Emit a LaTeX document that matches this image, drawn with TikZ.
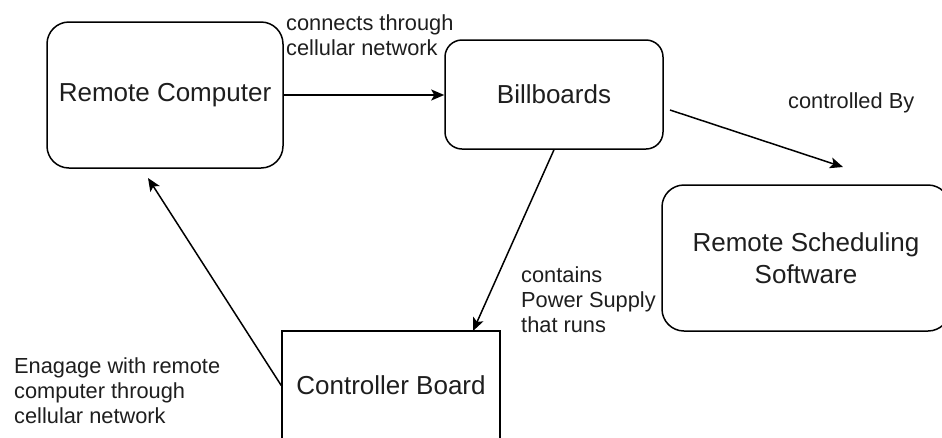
\documentclass[tikz,border=0pt]{standalone}
\usepackage{fontspec}
\setmainfont{Liberation Sans}
\usetikzlibrary{arrows.meta,calc}
\definecolor{txt}{RGB}{30,30,30}
\begin{document}
\begin{tikzpicture}[x=1pt,y=-1pt,
  box/.style={draw, line width=1.5pt, inner sep=0pt, text=txt, align=center,
    font=\fontsize{26}{32}\selectfont},
  lbl/.style={inner sep=0pt, text=txt, align=left, font=\fontsize{21.8}{25}\selectfont},
  conn/.style={line width=1.5pt, -{Stealth[length=13pt,width=11pt,inset=3pt]}}]
\useasboundingbox (0,0) rectangle (942,437);
\node[box, rounded corners=22pt, minimum width=236pt, minimum height=146pt] (rc) at (165,95) {Remote Computer};
\node[box, rounded corners=17pt, minimum width=218pt, minimum height=109pt] (bb) at (554,94.5) {Billboards};
\node[box, rounded corners=22pt, minimum width=288pt, minimum height=146pt] (rss) at (806,258) {Remote Scheduling\\Software};
\node[box, minimum width=218pt, minimum height=109pt] (cb) at (391,385.5) {Controller Board};
\coordinate (bs) at (670,110);
\coordinate (be) at (843,167);
\coordinate (ct) at (473,331);
\coordinate (re) at (148,178);
\draw[conn] (rc.east) -- (rc.east -| bb.west);
\draw[conn] (bs) -- (be);
\draw[conn] (bb.south) -- (ct);
\draw[conn] (cb.west) -- (re);
\node[lbl, anchor=north west] (l1) at (286,14) {connects through\\cellular network};
\node[lbl, anchor=base west] (l2) at (788,108) {controlled By};
\node[lbl, anchor=north west] (l3) at (521,266) {contains\\Power Supply\\that runs};
\node[lbl, anchor=north west] (l4) at (14,357) {Enagage with remote\\computer through\\cellular network};
\end{tikzpicture}
\end{document}
